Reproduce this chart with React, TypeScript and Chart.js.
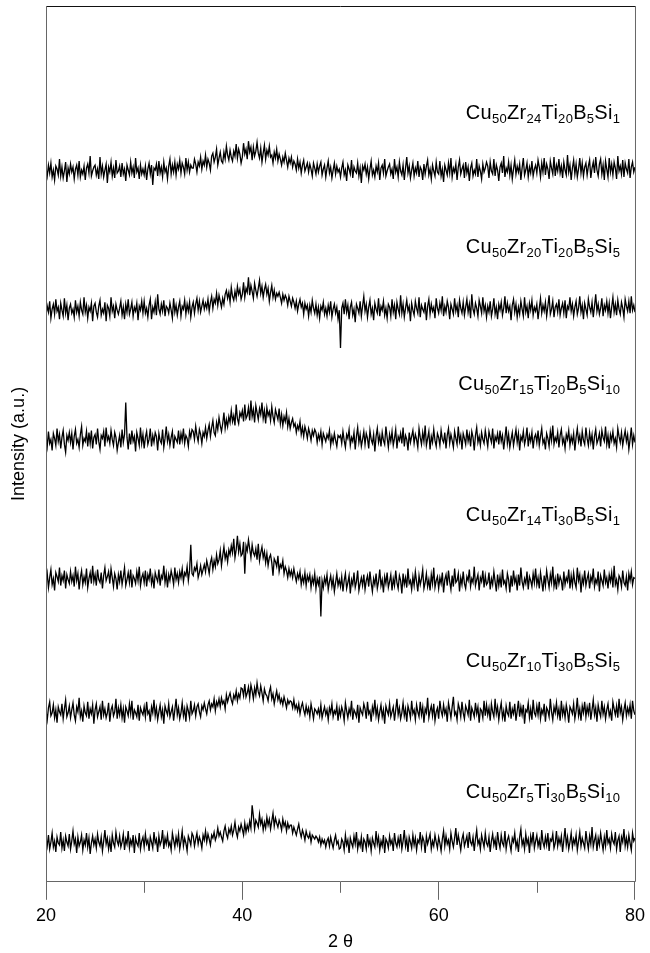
import React, { useEffect, useRef } from 'react';
import { Chart, registerables } from 'chart.js';

Chart.register(...registerables);

// 2θ sampling: 20° to 80°, step 0.125°
const X_START = 20;
const X_END = 80;
const X_LABELLED = [20, 40, 60, 80];
const X_MINOR = [30, 50, 70];

const SAMPLE_NAMES: [string, string][][] = [
  [['Cu', '50'], ['Zr', '24'], ['Ti', '20'], ['B', '5'], ['Si', '1']],
  [['Cu', '50'], ['Zr', '20'], ['Ti', '20'], ['B', '5'], ['Si', '5']],
  [['Cu', '50'], ['Zr', '15'], ['Ti', '20'], ['B', '5'], ['Si', '10']],
  [['Cu', '50'], ['Zr', '14'], ['Ti', '30'], ['B', '5'], ['Si', '1']],
  [['Cu', '50'], ['Zr', '10'], ['Ti', '30'], ['B', '5'], ['Si', '5']],
  [['Cu', '50'], ['Zr', '5'], ['Ti', '30'], ['B', '5'], ['Si', '10']],
];

// vertical offsets of each pattern (a.u.)
const OFFSETS = [715, 575, 444, 304, 170, 39];
// label anchor (right end at 2θ, centre height in a.u.)
const LABEL_X = 78.5;
const LABEL_Y = [774, 640, 502, 370, 223, 91];

const S1 = [
  3, -5, 6, -2, 8, -6, 1, -9, 5, 2,
  -4, 12, -5, 4, -7, 0, 9, -11, 3, -3,
  7, -1, 4, -8, 2, 6, -4, 10, -6, 1,
  -3, 5, -9, 3, 7, -2, 15, -5, 0, 4,
  6, -4, 2, -8, 14, -3, 5, -6, 1, 7,
  -12, 4, -1, 9, -5, 3, -7, 11, -2, 0,
  5, -6, 8, -3, 2, -10, 6, 1, -4, 9,
  -2, 4, -7, 13, -1, 3, -8, 6, -3, 2,
  -4, 5, -9, 2, 8, -3, 6, -14, 3, 1,
  7, -5, 10, -2, 4, -6, 9, -1, 3, -8,
  5, 12, -3, 6, -1, 9, -4, 7, 2, 11,
  -2, 8, 4, -3, 13, 1, 9, -1, 6, 3,
  3, 12, 7, -1, 9, 5, 14, 2, 10, 6,
  16, 4, 12, 8, 1, 15, 18, 9, 14, 22,
  6, 13, 19, 10, 8, 19, 12, 25, 16, 11,
  21, 14, 10, 20, 15, 27, 13, 22, 17, 8,
  14, 28, 17, 22, 12, 30, 19, 24, 11, 24,
  15, 20, 29, 18, 13, 23, 9, 18, 26, 12,
  21, 16, 25, 14, 16, 8, 19, 13, 22, 10,
  17, 12, 6, 14, 9, 18, 11, 4, 13, 8,
  14, 4, 10, 7, 1, 12, 3, 9, -2, 6,
  11, 0, 4, 8, -1, 7, 2, -5, 8, 3,
  -3, 7, -1, 5, 9, -4, 2, 6, -6, 3,
  10, -2, 4, -7, 1, 8, -3, 5, -1, 2,
  -6, 3, 9, -4, 1, -10, 6, 2, -3, 11,
  -7, 4, 0, -2, 8, -5, 3, -12, 5, 1,
  7, -3, 4, -8, 2, 10, -4, 1, -6, 5,
  -1, 8, -9, 3, 6, -2, 12, -5, 0, 4,
  7, -3, 2, -8, 12, -1, 4, -6, 9, 0,
  -4, 6, -9, 3, 14, -2, 5, -7, 1, 8,
  -5, 3, -2, 10, -6, 4, 1, -9, 7, -3,
  5, 11, -4, 2, -8, 6, 0, -5, 9, -1,
  -3, 10, -5, 2, -11, 6, 1, -4, 8, -2,
  13, -6, 3, -1, 7, -9, 4, 11, -3, 2,
  6, -7, 9, -2, 4, -10, 3, 8, -5, 1,
  -3, 12, -6, 5, 0, -8, 7, -1, 3, 9,
  5, -7, 9, 0, -3, 12, -5, 6, 1, -10,
  4, 8, -2, 15, -6, 3, -1, 9, -4, 6,
  -8, 2, 11, -3, 5, -1, 7, -9, 3, 13,
  -4, 1, 8, -6, 4, -2, 10, -5, 2, 6,
  -2, 11, 4, -6, 8, -1, 13, -4, 7, 2,
  -8, 10, 3, -3, 14, -5, 6, 0, 12, -2,
  5, -7, 9, 1, -4, 16, -1, 6, -9, 3,
  11, -3, 7, -6, 2, 13, -2, 8, -5, 4,
  8, -4, 5, 11, -7, 3, 9, -2, 14, 1,
  -5, 7, 12, -3, 6, -9, 10, 2, -6, 13,
  -1, 7, -4, 9, 3, -8, 15, 0, 5, -3,
  11, -6, 8, 2, -2, 12, -7, 4, 9, -1,
  4,
];

const S2 = [
  -5, 4, -2, 9, -8, 1, 6, -4, 11, -1,
  3, -9, 7, 0, -6, 12, -3, 5, -10, 2,
  6, -3, 1, -7, 10, -2, 4, -6, 8, 0,
  -4, 13, -2, 5, -8, 3, -1, 7, -11, 4,
  7, -2, -7, 4, 10, -5, 1, -3, 8, -11,
  5, 2, -6, 13, -1, 4, -8, 6, 0, -4,
  2, 9, -5, 3, -9, 6, -2, 11, -4, 1,
  8, -6, 3, -1, 7, -10, 4, 0, 9, -3,
  9, -3, 2, -7, 5, 11, -9, 3, -2, 8,
  -5, 16, 1, -4, 6, -1, 10, -6, 4, 2,
  -3, 7, 0, -8, 12, -2, 5, -5, 3, 9,
  -6, 4, 1, 10, -4, 6, -1, 8, -7, 3,
  8, -3, 6, 12, 0, 9, -2, 4, 10, 1,
  7, 2, 11, -1, 8, 14, 2, 11, 7, 17,
  5, 15, 9, 3, 12, 6, 16, 20, 12, 18,
  8, 23, 14, 10, 19, 12, 24, 16, 21, 11,
  16, 28, 13, 22, 18, 33, 15, 25, 19, 12,
  27, 20, 14, 22, 30, 17, 24, 13, 21, 26,
  16, 22, 9, 18, 25, 13, 20, 11, 17, 14,
  18, 13, 7, 16, 10, 15, 12, 5, 14, 9,
  4, 12, 8, 2, 9, -1, 6, 11, 3, 7,
  -4, 7, 1, 5, -6, 5, -2, 10, 2, -3,
  6, -5, 3, -8, 4, 0, 8, -4, 2, -6,
  5, -2, 9, -7, 1, 6, -3, 3, -9, 0,
  -38, 2, 7, -4, 11, -2, 5, -9, 3, 8,
  -5, 1, -12, 6, 2, -3, 9, -6, 4, 14,
  -1, 6, -7, 3, 10, -4, 2, -10, 7, 1,
  -3, 12, -6, 4, 0, 9, -5, 2, -8, 6,
  3, -6, 11, -2, 5, -9, 8, 1, -4, 15,
  -3, 6, -7, 2, 10, -1, 4, -11, 7, 0,
  -5, 9, 2, -3, 13, -7, 5, 1, -2, 8,
  -10, 4, 11, -4, 6, -1, 3, -8, 12, 2,
  -3, 7, 0, 14, -6, 4, -2, 9, 3, -9,
  6, 1, -4, 12, -1, 5, -7, 10, 2, -3,
  8, -5, 3, 11, -2, 6, -8, 16, 1, -4,
  7, 2, -6, 10, 4, -3, 13, -1, 5, -7,
  4, -2, 9, -6, 1, 12, -4, 3, -9, 6,
  0, 8, -5, 2, 14, -3, 7, -1, 4, -10,
  5, 11, -2, 6, -7, 3, -4, 9, 1, -6,
  13, -2, 4, -8, 7, 0, 10, -5, 3, -1,
  6, -9, 2, 12, -3, 5, -1, 8, -6, 4,
  15, -4, 1, 9, -7, 3, 6, -2, 11, -5,
  2, 7, -3, 10, -8, 4, 1, 13, -1, 6,
  -6, 3, 9, -4, 2, 14, -2, 5, -9, 7,
  1, -5, 11, 3, -2, 8, -7, 4, 16, -1,
  6, -4, 2, 12, -6, 5, 0, 9, -3, 7,
  -8, 3, 13, -2, 6, -5, 10, 1, -4, 8,
  2, -7, 11, 4, -1, 9, -3, 14, 0, 5,
  -2,
];

const S3 = [
  4, -6, 9, -3, 1, -10, 7, 2, -5, 12,
  -1, 6, -8, 3, 10, -4, -12, 5, 0, 8,
  -2, 7, -9, 4, 11, -3, 1, -7, 6, 14,
  -5, 2, -1, 9, -6, 8, -3, 10, -8, 3,
  6, -4, 12, -1, -9, 5, 2, 9, -6, 13,
  0, 4, -3, 10, 1, -5, 8, 3, -10, -2,
  5, -7, 11, -2, 6, 38, 3, -9, 7, -4,
  10, -1, 4, -11, 8, 2, -5, 13, -3, 6,
  -8, 3, 9, -4, 1, 12, -6, 5, -2, 8,
  4, -10, 7, 0, -3, 11, -7, 2, 14, -1,
  6, -5, 3, 9, -8, 4, 1, -2, 10, -4,
  7, 0, 12, -3, 5, 2, -6, 9, 3, 11,
  9, 1, 14, 5, -1, 11, 6, -3, 8, 4,
  13, 2, 10, 16, 4, 13, 20, 8, 5, 18,
  11, 23, 15, 9, 17, 28, 12, 21, 14, 24,
  18, 30, 19, 25, 15, 36, 22, 17, 28, 24,
  30, 19, 36, 22, 25, 33, 20, 40, 24, 31,
  18, 35, 28, 21, 32, 26, 38, 22, 30, 17,
  33, 25, 29, 20, 34, 24, 18, 31, 26, 21,
  32, 17, 26, 15, 24, 19, 28, 14, 22, 12,
  18, 22, 14, 17, 8, 15, 11, 19, 6, 13,
  4, 14, 9, 2, 12, 7, 0, 10, 5, 11,
  8, -2, 6, 1, 9, -4, 7, 3, -1, 6,
  2, 10, -5, 4, -2, 7, 0, -6, 5, 3,
  5, -3, 9, 0, -7, 6, 2, 11, -5, 3,
  -1, 8, -9, 4, 13, -2, 6, -6, 1, 9,
  -4, 7, 2, -8, 10, 1, -3, 6, -11, 4,
  12, -2, 5, -6, 8, 0, -4, 14, 3, -7,
  6, -1, 9, -5, 2, 11, -8, 4, 0, 7,
  -3, 13, -6, 5, 1, -10, 8, -2, 4, 10,
  -3, 6, 1, -7, 12, 3, -4, 8, -1, 15,
  -5, 2, 9, -9, 4, -2, 11, 0, -6, 7,
  3, -5, 10, 1, -2, 8, -8, 5, 12, -3,
  6, 0, -7, 9, 2, -4, 14, -1, 5, -9,
  7, 2, -4, 11, -1, 6, -6, 9, 3, -10,
  5, 13, -2, 4, -5, 8, 1, -3, 10, 2,
  -6, 9, 3, -2, 12, -8, 4, 0, 7, -4,
  10, -1, 5, -9, 2, 14, -3, 6, -7, 1,
  8, -5, 3, 11, -2, 7, -10, 4, 0, 9,
  -4, 2, 13, -6, 5, -1, 8, -8, 3, 6,
  -2, 10, -5, 4, 12, -3, 1, -9, 7, 2,
  -6, 9, 0, 15, -4, 3, -1, 8, -7, 5,
  11, -3, 2, -8, 6, 1, 10, -5, 4, -2,
  7, -10, 3, 12, -1, 5, -6, 9, 0, -4,
  13, 2, -5, 8, -2, 6, -9, 4, 11, -3,
  1, 7, -6, 10, 3, -1, 14, -4, 5, -8,
  6, 0, 9, -3, 2, -7, 12, 4, -2, 8,
  -5, 3, 10, -1, 6, -9, 1, 13, -4, 5,
  -2,
];

const S4 = [
  -3, 6, -8, 2, 10, -5, 1, -11, 7, 3,
  -2, 12, -6, 4, -1, 9, -9, 5, 0, -4,
  8, -2, 4, -7, 13, -1, 6, -10, 2, 9,
  -5, 3, -3, 11, -8, 1, 7, -4, 14, -2,
  5, -6, 10, 0, -3, 7, -9, 4, 12, -1,
  3, 8, -4, 11, 2, -7, 6, 1, -10, 5,
  -2, 9, -5, 3, 12, -6, 0, 7, -3, 10,
  -8, 4, 1, -4, 8, -1, 13, -6, 2, 6,
  -3, 9, -7, 5, 0, 11, -4, 3, -9, 7,
  2, -2, 10, -6, 4, 1, 14, -3, 6, -8,
  5, -1, 9, 3, -5, 12, 0, 6, -3, 8,
  2, 11, -2, 7, 4, 13, -1, 9, 35, 6,
  4, 12, 9, 16, 2, 7, 14, 5, 10, 15,
  8, 19, 13, 6, 17, 22, 10, 19, 13, 25,
  16, 20, 29, 14, 24, 33, 21, 27, 18, 30,
  25, 34, 27, 41, 22, 30, 44, 28, 36, 24,
  26, 38, 6, 34, 29, 40, 31, 22, 35, 27,
  24, 31, 20, 36, 19, 27, 33, 22, 28, 17,
  26, 14, 22, 25, 17, 4, 21, 18, 13, 24,
  8, 15, 12, 19, 6, 13, 9, 2, 11, 4,
  9, 2, 11, 4, -2, 6, 1, 8, -5, 3,
  -3, 7, -6, 4, -1, 5, -8, 2, -4, 6,
  -9, 1, -5, 3, -37, -1, -8, 2, -4, 5,
  -10, -2, 4, -7, 1, -12, -3, 6, -6, 0,
  -7, 3, -12, -1, 6, -9, -3, 4, -14, 0,
  -5, 7, -8, -2, 9, -11, -4, 2, -6, 5,
  -10, -1, 4, -7, 8, -3, -12, 1, -5, 6,
  -9, -2, 10, -6, 0, -13, 3, -4, 7, -8,
  -2, 5, -11, 1, -6, 9, -3, -9, 4, -1,
  -14, 6, -5, 2, -8, 11, -4, -1, -10, 3,
  -6, 8, -2, -12, 4, -5, 1, 10, -9, -3,
  6, -7, 0, -11, 5, -4, 12, -8, -1, 3,
  -9, 2, -4, 7, -13, 0, 5, -6, 9, -2,
  -10, 4, -7, 11, -3, -1, 6, -12, 2, -5,
  8, -4, -9, 3, -1, 10, -7, 1, -3, 13,
  -6, 0, 5, -11, 2, -2, 9, -8, 4, -5,
  -3, 7, -10, 1, -5, 8, -2, -12, 5, -6,
  3, -8, 10, -4, -1, -9, 6, 0, -13, 4,
  -7, 9, -3, 2, -11, 5, -6, 12, -2, -8,
  1, -4, 8, -10, 3, -1, -7, 6, -3, 11,
  -5, 2, -9, 7, -2, -12, 4, -6, 9, 0,
  -8, 5, -3, 13, -7, 1, -10, 6, -4, 3,
  -1, -11, 8, -5, 2, -2, 10, -9, 4, -6,
  7, -3, -8, 12, -1, 5, -13, 2, -4, 9,
  -6, 1, 6, -9, 3, -2, 11, -7, 0, -4,
  8, -12, 4, -1, -6, 10, -3, 2, -9, 5,
  -2, 7, -8, 14, -5, 0, -10, 4, 1, -7,
  9, -3, -6, 3, -11, 6, -1, 8, -5, 2,
  1,
];

const S5 = [
  2, -7, 5, 11, -3, 0, 8, -5, 3, -10,
  6, 1, -2, 9, -6, 4, 13, -4, 0, 7,
  -5, 3, 10, -2, -8, 6, 1, 15, -4, 2,
  -9, 7, 0, -3, 11, -6, 4, -1, 8, -11,
  3, 9, -4, 1, 6, -7, 12, -2, 4, -5,
  0, 10, -9, 3, 7, -3, 1, 14, -6, 5,
  -2, 8, -5, 4, -10, 6, 2, -3, 9, -1,
  12, -7, 3, 0, -4, 8, -8, 5, 1, -2,
  6, -4, 11, -1, 2, -9, 6, 0, 13, -3,
  5, -7, 1, 8, -4, 3, -11, 7, 2, -2,
  9, -4, 1, 6, -8, 3, 14, -2, 5, -6,
  0, 10, -3, 4, -9, 7, 2, -5, 12, -1,
  2, 8, -3, 6, 9, 1, -4, 7, 3, 10,
  4, -1, 8, 12, 3, 9, 6, 14, 2, 11,
  7, 14, 6, 15, 9, 12, 4, 18, 11, 16,
  20, 13, 9, 18, 14, 22, 12, 19, 15, 25,
  24, 17, 29, 16, 20, 26, 15, 28, 22, 14,
  25, 18, 30, 21, 17, 27, 20, 12, 24, 19,
  17, 12, 21, 26, 14, 19, 9, 16, 22, 13,
  18, 10, 14, 8, 16, 11, 5, 13, 9, 12,
  11, 5, 13, 4, 8, 2, 9, -1, 6, 10,
  3, -2, 7, 0, 5, -4, 9, 2, -6, 4,
  2, -1, 4, -3, 8, -5, 1, 6, -2, 3,
  -7, 5, 0, 9, -4, 2, -1, 7, -8, 4,
  -3, 6, 1, -8, 10, 2, -5, 4, -1, 12,
  -7, 3, 0, -4, 8, -10, 5, 1, -2, 9,
  4, -6, 11, -1, 2, -9, 6, 0, 13, -3,
  5, -7, 1, 8, -4, 3, -11, 7, 2, -2,
  9, -4, 1, 6, -8, 3, 14, -2, 5, -6,
  0, 10, -3, 4, -9, 7, 2, -5, 12, -1,
  3, -7, 8, 1, -4, 11, -2, 6, -10, 4,
  0, 15, -5, 2, 7, -3, 9, -8, 1, 5,
  -6, 12, 2, -3, 8, -1, 4, -9, 10, 3,
  -5, 6, 16, -2, 1, -7, 9, 4, -4, 11,
  0, -6, 7, 3, -2, 13, -8, 5, 1, -4,
  10, -1, 6, -10, 4, 2, -5, 12, -3, 8,
  -2, 5, -8, 9, 1, -4, 14, -1, 6, -7,
  3, 10, -5, 2, -9, 7, 0, -3, 11, -6,
  4, -1, 9, -8, 2, 12, -4, 6, -2, 8,
  -11, 3, 1, 10, -5, 4, -7, 13, 0, -3,
  7, -2, 11, -6, 3, -1, 9, -9, 5, 2,
  -4, 14, 1, -7, 6, 0, 10, -3, 4, -8,
  12, -2, 5, -5, 8, 1, -10, 6, 3, -1,
  9, -6, 2, 15, -3, 4, -8, 7, 0, 11,
  -4, 6, -1, 10, -7, 3, 13, -2, 5, -9,
  8, 1, -4, 12, -1, 6, -6, 3, 9, -3,
  2, -8, 11, 4, -2, 7, -5, 14, 0, 6,
  -7, 3, 10, -3, 5, -1, 8, -6, 12, 2,
  -2,
];

const S6 = [
  5, -3, 8, -6, 1, 10, -4, 2, -9, 6,
  0, -2, 11, -5, 3, -8, 7, 1, -3, 9,
  -6, 2, 12, -1, 4, -10, 6, -3, 1, 8,
  -7, 3, -2, 10, -4, 5, -11, 0, 7, -2,
  4, -5, 9, 1, -3, 6, -8, 2, 13, -1,
  5, -6, 3, -9, 8, 0, -4, 11, 2, -2,
  7, -4, 1, 9, -7, 4, -1, 12, -5, 3,
  -2, 8, -10, 5, 0, -3, 10, -6, 2, 6,
  -4, 9, -1, 3, -8, 6, 1, -5, 11, 0,
  4, -9, 7, -2, 2, 13, -6, 5, -1, 8,
  -3, 1, -7, 10, 3, -4, 6, -1, 9, -6,
  2, 12, -3, 5, 0, -8, 7, 3, -2, 10,
  7, -3, 4, 10, -1, 6, 2, -5, 8, 3,
  12, 1, 9, 4, -2, 8, 5, 11, 3, 7,
  15, 7, 11, 6, 2, 12, 17, 9, 5, 14,
  10, 17, 8, 13, 21, 11, 6, 16, 12, 19,
  14, 8, 20, 11, 18, 13, 22, 15, 38, 27,
  14, 23, 20, 16, 29, 19, 24, 13, 21, 15,
  26, 18, 24, 14, 22, 30, 17, 25, 20, 16,
  23, 19, 13, 24, 17, 21, 12, 20, 15, 18,
  18, 10, 16, 12, 8, 14, 19, 11, 6, 13,
  9, 3, 12, 7, 5, 10, 1, 8, 6, 4,
  7, 5, 1, 6, -2, 4, 0, 3, -4, 2,
  5, -3, 6, 0, -5, 3, 8, -1, 2, -6,
  -5, 4, 1, -7, 8, -2, 3, -10, 5, 0,
  -4, 7, -1, 11, -6, 2, -3, 6, -9, 4,
  1, -6, 9, -2, 3, -8, 5, 0, -4, 12,
  -1, 6, -7, 2, -3, 8, -10, 4, 1, -5,
  7, -1, 3, -8, 10, 0, -4, 5, -2, 9,
  -6, 2, 13, -3, 4, -9, 6, 1, -5, 8,
  -2, 5, -7, 3, 0, 11, -4, 6, 2, -10,
  7, -1, 4, 9, -6, 2, -3, 8, 1, -5,
  6, 0, -8, 4, 12, -3, 7, -1, 3, -6,
  10, 2, -4, 5, 15, -2, 8, 1, -7, 4,
  9, -3, 2, 7, -5, 11, 1, -2, 6, -8,
  4, 13, -1, 3, -6, 8, 2, -4, 10, 0,
  -3, 6, -9, 2, 9, -2, 4, -7, 11, 1,
  -5, 8, 0, -3, 12, -6, 3, 7, -1, -8,
  5, 1, 10, -4, 2, -9, 6, 14, -2, 3,
  -6, 9, -1, 4, -10, 7, 0, 11, -5, 2,
  8, -3, 3, -7, 13, 1, -4, 6, -2, 10,
  -8, 4, 2, 9, -5, 0, 12, -3, 5, -1,
  7, -9, 3, 15, -2, 6, -6, 1, 10, -4,
  4, -1, 8, -7, 2, 11, -3, 5, 0, -5,
  12, 2, -6, 7, -1, 16, -4, 3, 8, -8,
  5, -2, 10, 1, -7, 6, -3, 13, 0, 4,
  -5, 9, 2, -1, 11, -6, 3, 7, -9, 6,
  1, 14, -3, 5, -4, 8, 0, -7, 10, 2,
  5,
];

const SERIES = [S1, S2, S3, S4, S5, S6];

const FONT = '"Liberation Sans", Arial, Helvetica, sans-serif';

const overlayPlugin = {
  id: 'overlay',
  afterDraw(chart: any) {
    const { ctx, chartArea, scales } = chart;
    const xs = scales.x;
    const ys = scales.y;
    ctx.save();
    // frame
    ctx.lineWidth = 1;
    ctx.strokeStyle = '#111';
    ctx.beginPath();
    ctx.moveTo(chartArea.left, chartArea.top + 0.5);
    ctx.lineTo(chartArea.right, chartArea.top + 0.5);
    ctx.stroke();
    ctx.strokeStyle = '#666';
    ctx.beginPath();
    ctx.moveTo(chartArea.left + 0.5, chartArea.top);
    ctx.lineTo(chartArea.left + 0.5, chartArea.bottom);
    ctx.moveTo(chartArea.right + 0.5, chartArea.top);
    ctx.lineTo(chartArea.right + 0.5, chartArea.bottom);
    ctx.stroke();
    // minor ticks
    ctx.beginPath();
    X_MINOR.forEach((v) => {
      const px = Math.round(xs.getPixelForValue(v)) + 0.5;
      ctx.moveTo(px, chartArea.bottom);
      ctx.lineTo(px, chartArea.bottom + 11);
    });
    ctx.stroke();
    // sample labels with subscripts
    ctx.fillStyle = '#000';
    ctx.textBaseline = 'alphabetic';
    const mainFont = `20px ${FONT}`;
    const subFont = `13px ${FONT}`;
    (ctx as any).letterSpacing = '0.3px';
    SAMPLE_NAMES.forEach((parts, i) => {
      let w = 0;
      parts.forEach(([el, sub]) => {
        ctx.font = mainFont;
        w += ctx.measureText(el).width;
        ctx.font = subFont;
        w += ctx.measureText(sub).width;
      });
      let x = xs.getPixelForValue(LABEL_X) - w;
      const base = ys.getPixelForValue(LABEL_Y[i]) + 7;
      ctx.textAlign = 'left';
      parts.forEach(([el, sub]) => {
        ctx.font = mainFont;
        ctx.fillText(el, x, base);
        x += ctx.measureText(el).width;
        ctx.font = subFont;
        ctx.fillText(sub, x, base + 4);
        x += ctx.measureText(sub).width;
      });
    });
    (ctx as any).letterSpacing = '0px';
    // y-axis title
    ctx.font = `18px ${FONT}`;
    ctx.textAlign = 'center';
    ctx.textBaseline = 'middle';
    ctx.translate(19, (chartArea.top + chartArea.bottom) / 2);
    ctx.rotate(-Math.PI / 2);
    ctx.fillText('Intensity (a.u.)', 0, 0);
    ctx.restore();
  },
};

export default function App() {
  const ref = useRef<HTMLCanvasElement | null>(null);

  useEffect(() => {
    document.body.style.margin = '0';
    const canvas = ref.current;
    if (!canvas) return;
    const datasets = SERIES.map((s, k) => ({
      label: SAMPLE_NAMES[k].map((p) => p.join('')).join(''),
      data: s.map((v, i) => ({
        x: X_START + (i * (X_END - X_START)) / (s.length - 1),
        y: v + OFFSETS[k],
      })),
      borderColor: '#000',
      borderWidth: 1.3,
      pointRadius: 0,
      tension: 0,
      fill: false,
    }));
    const chart = new Chart(canvas, {
      type: 'line',
      data: { datasets },
      options: {
        animation: false,
        responsive: false,
        devicePixelRatio: 1,
        layout: { padding: { left: 46, right: 12, top: 6, bottom: 0 } },
        plugins: { legend: { display: false }, tooltip: { enabled: false } },
        scales: {
          x: {
            type: 'linear',
            min: X_START,
            max: X_END,
            afterBuildTicks: (scale: any) => {
              scale.ticks = X_LABELLED.map((v) => ({ value: v }));
            },
            ticks: {
              color: '#000',
              font: { size: 18, family: FONT },
              padding: 5,
              maxRotation: 0,
              autoSkip: false,
            },
            grid: {
              drawOnChartArea: false,
              drawTicks: true,
              tickLength: 18,
              color: '#666',
            },
            border: { display: true, color: '#666', width: 1 },
            title: {
              display: true,
              text: '2 θ',
              color: '#000',
              font: { size: 18, family: FONT },
              padding: { top: 0, bottom: 0 },
            },
          },
          y: { display: false, min: 0, max: 881 },
        },
      },
      plugins: [overlayPlugin],
    });
    return () => chart.destroy();
  }, []);

  return (
    <div style={{ width: 650, height: 953 }}>
      <canvas ref={ref} width={650} height={953} style={{ display: 'block' }} />
    </div>
  );
}
